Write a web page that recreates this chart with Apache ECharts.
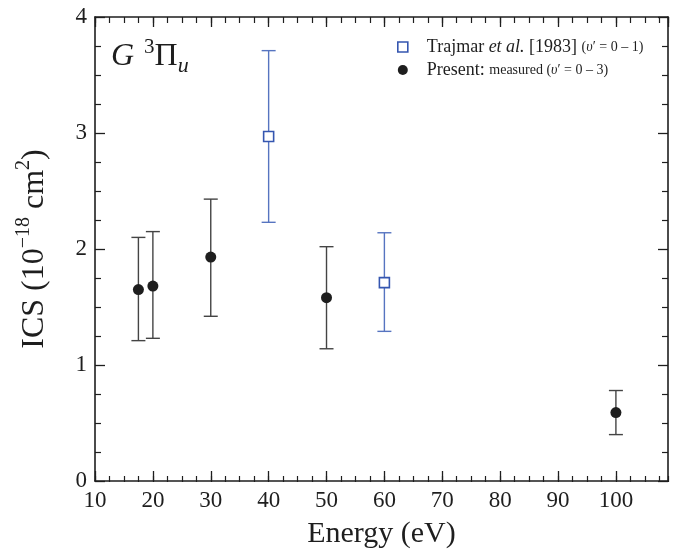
<!DOCTYPE html>
<html><head><meta charset="utf-8">
<script src="https://cdn.jsdelivr.net/npm/echarts@6/dist/echarts.min.js"></script>
<style>html,body{margin:0;padding:0;background:#fff}#c{width:684px;height:554px}</style>
</head><body><div id="c"></div>
<script>
// ---- data ----
const xTickLabels = [10, 20, 30, 40, 50, 60, 70, 80, 90, 100];
const yTickLabels = [0, 1, 2, 3, 4];
const presentEnergy = [17.5, 20, 30, 50, 100];
const presentICS    = [1.65, 1.68, 1.93, 1.58, 0.59];
const presentLow    = [1.21, 1.23, 1.42, 1.14, 0.40];
const presentHigh   = [2.10, 2.15, 2.43, 2.02, 0.78];
const trajmarEnergy = [40, 60];
const trajmarICS    = [2.97, 1.71];
const trajmarLow    = [2.23, 1.29];
const trajmarHigh   = [3.71, 2.14];

const FONT = '"Liberation Serif","Times New Roman",serif';
const INK = '#1e1e1e';
const BLUE = '#3556b0';
const BLUE_BAR = '#5674c0';
const GREY_BAR = '#444';

const gridRect = {left: 95, right: 16, top: 17, bottom: 72};

function errRender(color) {
  return function (params, api) {
    const x = api.value(0), lo = api.value(1), hi = api.value(2);
    const a = api.coord([x, lo]), b = api.coord([x, hi]);
    const w = 7;
    const st = {stroke: color, lineWidth: 1.4};
    return {type: 'group', children: [
      {type: 'line', shape: {x1: a[0], y1: a[1], x2: b[0], y2: b[1]}, style: st},
      {type: 'line', shape: {x1: a[0] - w, y1: a[1], x2: a[0] + w, y2: a[1]}, style: st},
      {type: 'line', shape: {x1: b[0] - w, y1: b[1], x2: b[0] + w, y2: b[1]}, style: st}
    ]};
  };
}

const axisLine = {show: true, onZero: false, lineStyle: {color: INK, width: 1.6}};
function xMajor(pos, labels) {
  return {type: 'value', gridIndex: 0, position: pos, min: 10, max: 109, interval: 10,
    axisLine: axisLine, splitLine: {show: false},
    axisTick: {show: true, inside: true, length: 10, lineStyle: {color: INK, width: 1.3}},
    axisLabel: {show: labels, margin: 8, fontFamily: FONT, fontSize: 23, color: INK,
      showMaxLabel: false,
      formatter: v => (xTickLabels.indexOf(v) >= 0 ? String(v) : '')},
    name: labels ? 'Energy (eV)' : '', nameLocation: 'middle', nameGap: 38,
    nameTextStyle: {fontFamily: FONT, fontSize: 30, color: INK}};
}
function xMinor(pos) {
  return {type: 'value', gridIndex: 1, position: pos, min: 10, max: 109, interval: 2.5,
    axisLine: {show: false}, splitLine: {show: false}, axisLabel: {show: false},
    axisTick: {show: true, inside: true, length: 6, lineStyle: {color: INK, width: 1.2}}};
}
function yMajor(pos, labels) {
  return {type: 'value', gridIndex: 0, position: pos, min: 0, max: 4, interval: 1,
    axisLine: axisLine, splitLine: {show: false},
    axisTick: {show: true, inside: true, length: 10, lineStyle: {color: INK, width: 1.3}},
    minorTick: {show: true, splitNumber: 4, length: 6, lineStyle: {color: INK, width: 1.2}},
    axisLabel: {show: labels, margin: 8, fontFamily: FONT, fontSize: 23, color: INK,
      formatter: v => (yTickLabels.indexOf(v) >= 0 ? String(v) : '')},
    name: labels ? '{r|ICS (10}{sup|−18}{r| cm}{sup|2}{r|)}' : '',
    nameLocation: 'middle', nameGap: 39,
    nameTextStyle: {fontFamily: FONT, fontSize: 32, color: INK,
      rich: {
        r: {fontFamily: FONT, fontSize: 32, color: INK},
        sup: {fontFamily: FONT, fontSize: 20, color: INK, padding: [0, 0, 22, 0]}
      }}};
}

const option = {
  animation: false,
  backgroundColor: '#fff',
  grid: [Object.assign({}, gridRect), Object.assign({}, gridRect)],
  xAxis: [xMajor('bottom', true), xMajor('top', false), xMinor('bottom'), xMinor('top')],
  yAxis: [yMajor('left', true), yMajor('right', false),
    {type: 'value', gridIndex: 1, min: 0, max: 4, show: false}],
  legend: {
    orient: 'vertical', left: 392, top: 33, itemWidth: 10, itemHeight: 10, itemGap: 5,
    data: [
      {name: 'Trajmar', icon: 'rect', itemStyle: {color: '#fff', borderColor: BLUE, borderWidth: 1.6}},
      {name: 'Present', icon: 'circle', itemStyle: {color: INK}}
    ],
    formatter: function (name) {
      if (name === 'Trajmar') return '{g|}{r|Trajmar }{i|et al.}{r| [1983] }{s|(}{si|υ}{s|′ = 0 – 1)}';
      return '{g|}{r|Present: }{s|measured (}{si|υ}{s|′ = 0 – 3)}';
    },
    textStyle: {
      rich: {
        g: {width: 14},
        r: {fontFamily: FONT, fontSize: 18, color: INK},
        i: {fontFamily: FONT, fontSize: 18, fontStyle: 'italic', color: INK},
        s: {fontFamily: FONT, fontSize: 14, color: INK},
        si: {fontFamily: FONT, fontSize: 14, fontStyle: 'italic', color: INK}
      }
    }
  },
  graphic: [{
    type: 'text', left: 111, top: 37, z: 100,
    style: {
      text: '{g|G}{sup|3}{p|Π}{sub|u}',
      rich: {
        g: {fontFamily: FONT, fontSize: 32, fontStyle: 'italic', fill: INK},
        sup: {fontFamily: FONT, fontSize: 21, fill: INK, padding: [0, 0, 18, 10]},
        p: {fontFamily: FONT, fontSize: 32, fill: INK},
        sub: {fontFamily: FONT, fontSize: 22, fontStyle: 'italic', fill: INK, padding: [20, 0, 0, 0]}
      }
    }
  }],
  series: [
    {name: 'presentErr', type: 'custom', xAxisIndex: 0, yAxisIndex: 0, z: 2,
      renderItem: errRender(GREY_BAR), encode: {x: 0, y: [1, 2]},
      data: presentEnergy.map((e, i) => [e, presentLow[i], presentHigh[i]])},
    {name: 'trajmarErr', type: 'custom', xAxisIndex: 0, yAxisIndex: 0, z: 2,
      renderItem: errRender(BLUE_BAR), encode: {x: 0, y: [1, 2]},
      data: trajmarEnergy.map((e, i) => [e, trajmarLow[i], trajmarHigh[i]])},
    {name: 'Trajmar', type: 'scatter', xAxisIndex: 0, yAxisIndex: 0, z: 5,
      symbol: 'rect', symbolSize: 10,
      itemStyle: {color: '#fff', borderColor: BLUE, borderWidth: 1.6, opacity: 1},
      data: trajmarEnergy.map((e, i) => [e, trajmarICS[i]])},
    {name: 'Present', type: 'scatter', xAxisIndex: 0, yAxisIndex: 0, z: 5,
      symbol: 'circle', symbolSize: 11,
      itemStyle: {color: INK, opacity: 1},
      data: presentEnergy.map((e, i) => [e, presentICS[i]])}
  ]
};
const chart = echarts.init(document.getElementById('c'), null, {renderer: 'canvas'});
chart.setOption(option);
</script>
</body></html>
